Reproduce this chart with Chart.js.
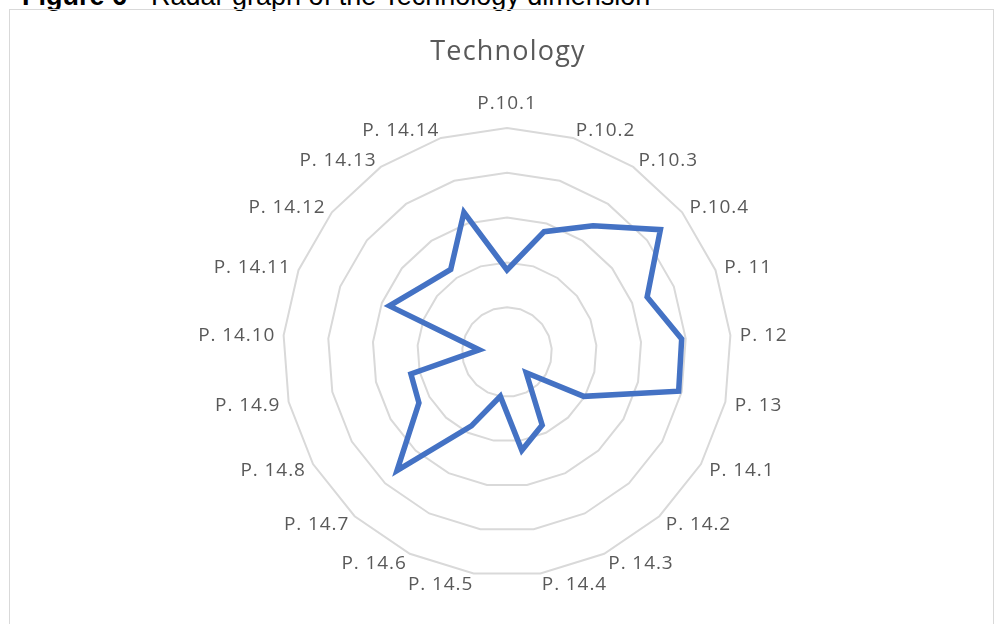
<!DOCTYPE html>
<html>
<head>
<meta charset="utf-8">
<script src="https://cdn.jsdelivr.net/npm/chart.js@4.4.1/dist/chart.umd.min.js"></script>
<style>
  html, body { margin: 0; padding: 0; background: #ffffff; }
  body { width: 996px; height: 624px; position: relative; overflow: hidden; }
  #caption {
    position: absolute; left: 22px; top: -17px;
    font-family: "Liberation Sans", Arial, sans-serif; font-size: 27px; line-height: 26px;
    color: #000000; white-space: nowrap;
  }
  #caption b { font-weight: bold; }
  #frame {
    position: absolute; left: 9px; top: 9px; width: 985px; height: 700px;
    border: 1px solid #d9d9d9; box-sizing: border-box;
  }
  #radar { position: absolute; left: 0; top: 0; }
</style>
</head>
<body>
<div id="caption"><b>Figure 6</b> - Radar graph of the Technology dimension</div>
<div id="frame"></div>
<canvas id="radar" width="996" height="624"></canvas>
<script>
// Questionnaire items on the radar axes, clockwise from the top
const categories = [
  'P.10.1', 'P.10.2', 'P.10.3', 'P.10.4', 'P. 11', 'P. 12', 'P. 13',
  'P. 14.1', 'P. 14.2', 'P. 14.3', 'P. 14.4', 'P. 14.5', 'P. 14.6', 'P. 14.7',
  'P. 14.8', 'P. 14.9', 'P. 14.10', 'P. 14.11', 'P. 14.12', 'P. 14.13', 'P. 14.14'
];

// Average score per item for the Technology dimension
const technologyScores = [
  1.83, 2.81, 3.41, 4.38, 3.36, 3.91, 3.93,
  1.98, 0.63, 1.81, 2.22, 1.00, 1.83, 3.61,
  2.27, 2.20, 0.62, 2.82, 2.38, 2.23, 3.26
];

// Radial axis range and ring spacing
const scaleMin = 0;
const scaleMax = 5;
const scaleStep = 1;

const chartTitle = 'Technology';

// Axis labels placed beside each spoke end, vertically centred on the spoke,
// plus the chart title above the web.
const labelPlugin = {
  id: 'spokeLabels',
  afterDraw(chart) {
    const scale = chart.scales.r;
    const ctx = chart.ctx;
    ctx.save();
    ctx.fillStyle = '#595959';
    ctx.textBaseline = 'alphabetic';

    ctx.font = '27px "Open Sans"';
    ctx.letterSpacing = '1.2px';
    ctx.textAlign = 'center';
    ctx.fillText(chartTitle, scale.xCenter + 1, 60);

    ctx.font = '19px "Open Sans"';
    ctx.letterSpacing = '0.9px';
    chart.data.labels.forEach((text, i) => {
      const p = scale.getPointPosition(i, scale.drawingArea + 9.5);
      const a = scale.getIndexAngle(i);
      const s = Math.sin(a);
      let cy = p.y;
      let x = p.x;
      if (Math.abs(s) < 0.05) {
        ctx.textAlign = 'center';
        cy += Math.cos(a) > 0 ? -16.5 : 16.5;
      } else if (s > 0) {
        ctx.textAlign = 'left';
      } else {
        ctx.textAlign = 'right';
        x += 1;
      }
      ctx.fillText(text, x, cy + 6.8);
    });
    ctx.restore();
  }
};

new Chart(document.getElementById('radar'), {
  type: 'radar',
  data: {
    labels: categories,
    datasets: [{
      label: chartTitle,
      data: technologyScores,
      borderColor: '#4472C4',
      borderWidth: 5.5,
      fill: false,
      pointRadius: 0,
      pointHoverRadius: 0,
      tension: 0
    }]
  },
  options: {
    responsive: false,
    devicePixelRatio: 1,
    animation: false,
    layout: { padding: { left: 283, right: 265, top: 128, bottom: 48 } },
    plugins: {
      legend: { display: false },
      title: { display: false },
      tooltip: { enabled: false }
    },
    scales: {
      r: {
        min: scaleMin,
        max: scaleMax,
        ticks: { display: false, stepSize: scaleStep },
        angleLines: { display: false },
        grid: { color: '#d9d9d9', lineWidth: 2, circular: false },
        pointLabels: { display: false }
      }
    }
  },
  plugins: [labelPlugin]
});
</script>
</body>
</html>
